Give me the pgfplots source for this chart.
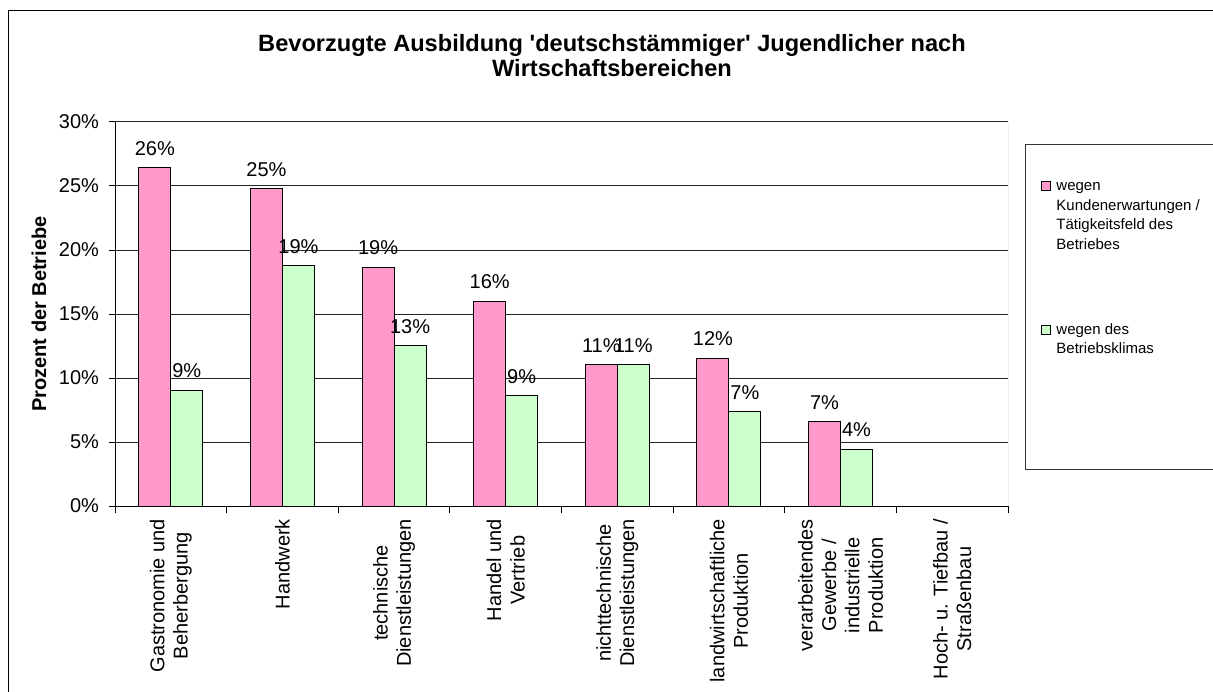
\documentclass[border=0pt]{standalone}
\usepackage{pgfplots}
\pgfplotsset{compat=1.18}
\usepackage{fontspec}
\setmainfont{Liberation Sans}

\definecolor{pinkbar}{HTML}{FF99CC}
\definecolor{greenbar}{HTML}{CCFFCC}
\definecolor{framegray}{HTML}{808080}

\pgfplotsset{sqlegend/.style={legend image code/.code={%
  \draw[##1] (0pt,-0.25pt) rectangle (4.5pt,4.25pt);
  \path (5.6pt,2pt);}}}

% Anteile in Prozent, Kategorie 7 (Hoch- u. Tiefbau) ohne Werte
\pgfplotstableread{
x kunden klima
0 26.45 9.05
1 24.8  18.8
2 18.65 12.55
3 16.0  8.6
4 11.05 11.05
5 11.55 7.4
6 6.6   4.45
}\datatable

\begin{document}
\begin{tikzpicture}
\useasboundingbox (0,0) rectangle (606.5pt,345.5pt);
% aeusserer Diagrammrahmen (rechts und unten abgeschnitten)
\draw[black, line width=0.5pt] (4.15pt,-20pt) -- (4.15pt,340pt) -- (640pt,340pt);

\begin{axis}[
  at={(57.5pt,92.5pt)}, anchor=south west, scale only axis,
  width=446.5pt, height=192pt,
  ybar=0pt, bar width=16pt,
  xmin=-0.5, xmax=7.5, ymin=0, ymax=30,
  axis lines=left, axis line style={-, black, line width=0.5pt},
  tick align=outside, major tick length=3pt, minor tick length=3.5pt,
  ytick={0,5,...,30},
  yticklabel={\pgfmathprintnumber{\tick}\%},
  yticklabel style={font=\fontsize{10}{12}\selectfont, xshift=-1.5pt},
  ytick style={black, line width=0.5pt},
  xtick={0,...,7},
  xticklabels={
    {Gastronomie und\\Beherbergung},
    {Handwerk},
    {technische\\Dienstleistungen},
    {Handel und\\Vertrieb},
    {nichttechnische\\Dienstleistungen},
    {landwirtschaftliche\\Produktion},
    {verarbeitendes\\Gewerbe /\\industrielle\\Produktion},
    {Hoch- u. Tiefbau /\\Straßenbau}},
  xticklabel style={rotate=90, anchor=east, align=center, font=\fontsize{10}{11.7}\selectfont},
  major x tick style={draw=none},
  minor xtick={-0.5,0.5,...,7.5},
  minor x tick style={black, line width=0.5pt},
  ymajorgrids, major grid style={black!85, line width=0.5pt},
  /pgf/number format/assume math mode=true,
  ylabel={Prozent der Betriebe},
  ylabel style={font=\bfseries\fontsize{10}{12}\selectfont, at={(axis description cs:-0.0851,0.5)}, anchor=center},
  nodes near coords={\pgfmathprintnumber[fixed,precision=0]{\pgfplotspointmeta}\%},
  nodes near coords style={font=\fontsize{10}{12}\selectfont, inner sep=0pt, yshift=5.8pt},
  legend style={at={(rel axis cs:1.0190,0.9427)}, anchor=north west, draw=black!80, line width=0.5pt,
    inner xsep=8pt, inner ysep=14.7pt, row sep=29.9pt, font=\fontsize{7.5}{9.8}\selectfont,
    nodes={inner sep=1.4pt, text depth=}, cells={anchor=base west}},
]
\addplot[draw=black, fill=pinkbar, line width=0.5pt, sqlegend]
  table[x=x, y=kunden]{\datatable};
\addlegendentry{\begin{tabular}[t]{@{}l@{}}wegen\\Kundenerwartungen /\rule{30pt}{0pt}\\Tätigkeitsfeld des\\Betriebes\end{tabular}}
\addplot[draw=black, fill=greenbar, line width=0.5pt, sqlegend]
  table[x=x, y=klima]{\datatable};
\addlegendentry{\begin{tabular}[t]{@{}l@{}}wegen des\\Betriebsklimas\rule[-41.8pt]{0pt}{41.8pt}\end{tabular}}
\draw[framegray, line width=0.5pt] (rel axis cs:1,0) -- (rel axis cs:1,1);
\end{axis}

\node[anchor=base, font=\bfseries\fontsize{11.8}{14}\selectfont] at (306pt,319.5pt)
  {Bevorzugte Ausbildung \textquotesingle deutschstämmiger\textquotesingle\ Jugendlicher nach};
\node[anchor=base, font=\bfseries\fontsize{11.8}{14}\selectfont] at (306pt,307pt)
  {Wirtschaftsbereichen};
\end{tikzpicture}
\end{document}
